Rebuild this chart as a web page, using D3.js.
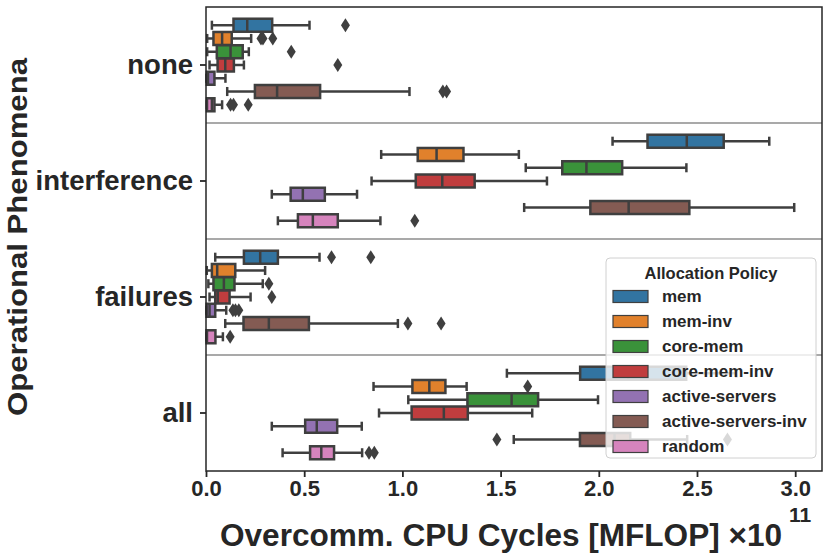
<!DOCTYPE html>
<html>
<head>
<meta charset="utf-8">
<script src="https://cdn.jsdelivr.net/npm/d3@7"></script>
<style>
  body { margin: 0; background: #fff; }
  text { font-family: "Liberation Sans", Arial, sans-serif; font-weight: bold; fill: #262626; }
</style>
</head>
<body>
<script>
var svgWidth = 830;
var svgHeight = 554;

var margin = { top: 7, right: 8, bottom: 83, left: 206 };
var width = svgWidth - margin.left - margin.right;
var height = svgHeight - margin.top - margin.bottom;

// categories and hue levels
var phenomena = ["none", "interference", "failures", "all"];
var policies = ["mem", "mem-inv", "core-mem", "core-mem-inv", "active-servers", "active-servers-inv", "random"];
var colors = ["#3274a1", "#e1812c", "#3a923a", "#c03d3e", "#9372b2", "#845b53", "#d684bd"];
var xTicks = [0, 0.5, 1.0, 1.5, 2.0, 2.5, 3.0];

// box stats per policy: [whisker low, q1, median, q3, whisker high]  (x 1e11 MFLOP)
var noneStats = [
  [0.030, 0.140, 0.210, 0.337, 0.527],
  [0.006, 0.038, 0.082, 0.131, 0.230],
  [0.006, 0.055, 0.125, 0.187, 0.218],
  [0.018, 0.059, 0.098, 0.142, 0.193],
  [0.002, 0.004, 0.010, 0.043, 0.099],
  [0.108, 0.249, 0.362, 0.581, 1.036],
  [0.004, 0.005, 0.030, 0.043, 0.082]
];
var noneFliers = [[0.71], [0.28, 0.29, 0.34], [0.434], [0.671], [], [1.206, 1.225], [0.125, 0.14, 0.215]];

var interferenceStats = [
  [2.070, 2.248, 2.448, 2.636, 2.868],
  [0.892, 1.078, 1.174, 1.311, 1.593],
  [1.628, 1.814, 1.937, 2.119, 2.446],
  [0.843, 1.068, 1.203, 1.368, 1.736],
  [0.335, 0.431, 0.493, 0.605, 0.769],
  [1.620, 1.957, 2.152, 2.461, 2.995],
  [0.366, 0.468, 0.544, 0.671, 0.888]
];
var interferenceFliers = [[], [], [], [], [], [], [1.063]];

var failuresStats = [
  [0.047, 0.193, 0.276, 0.366, 0.578],
  [0.004, 0.030, 0.057, 0.149, 0.301],
  [0.012, 0.038, 0.091, 0.145, 0.289],
  [0.018, 0.047, 0.060, 0.120, 0.227],
  [0.002, 0.003, 0.018, 0.047, 0.103],
  [0.098, 0.191, 0.320, 0.524, 0.977],
  [0.002, 0.003, 0.005, 0.048, 0.086]
];
var failuresFliers = [[0.639, 0.839], [], [0.32], [0.335], [0.137, 0.15, 0.167], [1.028, 1.197], [0.123]];

var allStats = [
  [1.532, 1.905, 2.150, 2.445, 2.700],
  [0.853, 1.051, 1.137, 1.219, 1.327],
  [1.030, 1.331, 1.556, 1.691, 1.996],
  [0.881, 1.047, 1.211, 1.333, 1.661],
  [0.335, 0.505, 0.564, 0.668, 0.793],
  [1.567, 1.904, 2.080, 2.160, 2.450],
  [0.390, 0.530, 0.587, 0.652, 0.795]
];
var allFliers = [[], [1.638], [], [], [], [1.481, 2.655], [0.83, 0.857]];

var statsByPhen = [noneStats, interferenceStats, failuresStats, allStats];
var fliersByPhen = [noneFliers, interferenceFliers, failuresFliers, allFliers];

var lineColor = "#3f3f3f";

var svg = d3.select("body")
  .append("svg")
  .attr("width", svgWidth)
  .attr("height", svgHeight);

var chartGroup = svg.append("g")
  .attr("transform", `translate(${margin.left}, ${margin.top})`);

// scales
var xScale = d3.scaleLinear()
  .domain([0, width / 196.4])
  .range([0, width]);

var yBand = d3.scaleBand()
  .domain(phenomena)
  .range([0, height]);

var hueBand = d3.scaleBand()
  .domain(policies)
  .range([-0.4 * yBand.bandwidth(), 0.4 * yBand.bandwidth()]);

var boxH = hueBand.bandwidth() * 0.98;
var capH = boxH * 0.7;

// separators between categories
chartGroup.selectAll(".sep")
  .data(phenomena.slice(1))
  .enter()
  .append("line")
  .attr("x1", 0)
  .attr("x2", width)
  .attr("y1", d => yBand(d))
  .attr("y2", d => yBand(d))
  .attr("stroke", "#8c8c8c")
  .attr("stroke-width", 1.5);

// boxes
phenomena.forEach(function(p, i) {
  var yc = yBand(p) + yBand.bandwidth() / 2;
  policies.forEach(function(pol, j) {
    var s = statsByPhen[i][j];
    var cy = yc + hueBand(pol) + hueBand.bandwidth() / 2;
    var g = chartGroup.append("g");

    g.append("rect")
      .attr("x", xScale(s[1]))
      .attr("y", cy - boxH / 2)
      .attr("width", xScale(s[3]) - xScale(s[1]))
      .attr("height", boxH)
      .attr("fill", colors[j])
      .attr("stroke", lineColor)
      .attr("stroke-width", 2.5);

    // whiskers
    [[s[0], s[1]], [s[3], s[4]]].forEach(function(w) {
      g.append("line")
        .attr("x1", xScale(w[0])).attr("x2", xScale(w[1]))
        .attr("y1", cy).attr("y2", cy)
        .attr("stroke", lineColor).attr("stroke-width", 2.5);
    });

    // caps
    [s[0], s[4]].forEach(function(c) {
      g.append("line")
        .attr("x1", xScale(c)).attr("x2", xScale(c))
        .attr("y1", cy - capH / 2).attr("y2", cy + capH / 2)
        .attr("stroke", lineColor).attr("stroke-width", 2.5);
    });

    // median
    g.append("line")
      .attr("x1", xScale(s[2])).attr("x2", xScale(s[2]))
      .attr("y1", cy - boxH / 2).attr("y2", cy + boxH / 2)
      .attr("stroke", lineColor).attr("stroke-width", 2.5);

    // outliers
    g.selectAll(".flier")
      .data(fliersByPhen[i][j])
      .enter()
      .append("path")
      .attr("d", d => `M${xScale(d)},${cy - 7}L${xScale(d) + 4.5},${cy}L${xScale(d)},${cy + 7}L${xScale(d) - 4.5},${cy}Z`)
      .attr("fill", lineColor);
  });
});

// frame
chartGroup.append("rect")
  .attr("width", width)
  .attr("height", height)
  .attr("fill", "none")
  .attr("stroke", "#262626")
  .attr("stroke-width", 1.5);

// axes
var bottomAxis = d3.axisBottom(xScale)
  .tickValues(xTicks)
  .tickFormat(d3.format(".1f"))
  .tickSize(6)
  .tickPadding(3);
var leftAxis = d3.axisLeft(yBand).tickSize(6).tickPadding(7);

var xAxisG = chartGroup.append("g")
  .attr("transform", `translate(0, ${height})`)
  .call(bottomAxis);
xAxisG.select(".domain").remove();
xAxisG.selectAll("line").attr("stroke", "#262626").attr("stroke-width", 1.8);
xAxisG.selectAll("text").style("font-size", "22px").attr("fill", "#262626");

var yAxisG = chartGroup.append("g").call(leftAxis);
yAxisG.select(".domain").remove();
yAxisG.selectAll("line").attr("stroke", "#262626").attr("stroke-width", 1.8);
yAxisG.selectAll("text").style("font-size", "27.5px").attr("fill", "#262626");

// axis labels
svg.append("text")
  .attr("transform", "translate(27, 237) rotate(-90)")
  .attr("text-anchor", "middle")
  .attr("textLength", 358)
  .attr("lengthAdjust", "spacingAndGlyphs")
  .style("font-size", "28px")
  .text("Operational Phenomena");

svg.append("text")
  .attr("x", 220)
  .attr("y", 546)
  .attr("textLength", 562)
  .attr("lengthAdjust", "spacingAndGlyphs")
  .style("font-size", "32px")
  .text("Overcomm. CPU Cycles [MFLOP] \u00d710");

svg.append("text")
  .attr("x", 789)
  .attr("y", 522)
  .style("font-size", "21px")
  .text("11");

// legend
var legend = svg.append("g").attr("transform", "translate(606, 258)");
legend.append("rect")
  .attr("width", 210)
  .attr("height", 200)
  .attr("rx", 4)
  .attr("fill", "#fff")
  .attr("fill-opacity", 0.8)
  .attr("stroke", "#d0d0d0")
  .attr("stroke-width", 1);
legend.append("text")
  .attr("x", 105)
  .attr("y", 21)
  .attr("text-anchor", "middle")
  .style("font-size", "16.5px")
  .text("Allocation Policy");

var rows = legend.selectAll(".row")
  .data(policies)
  .enter()
  .append("g")
  .attr("transform", (d, i) => `translate(0, ${38.5 + i * 25})`);
rows.append("rect")
  .attr("x", 7)
  .attr("y", -6)
  .attr("width", 35)
  .attr("height", 12)
  .attr("fill", (d, i) => colors[i])
  .attr("stroke", lineColor)
  .attr("stroke-width", 1.2);
rows.append("text")
  .attr("x", 56)
  .attr("dy", "0.35em")
  .style("font-size", "17px")
  .text(d => d);
</script>
</body>
</html>
